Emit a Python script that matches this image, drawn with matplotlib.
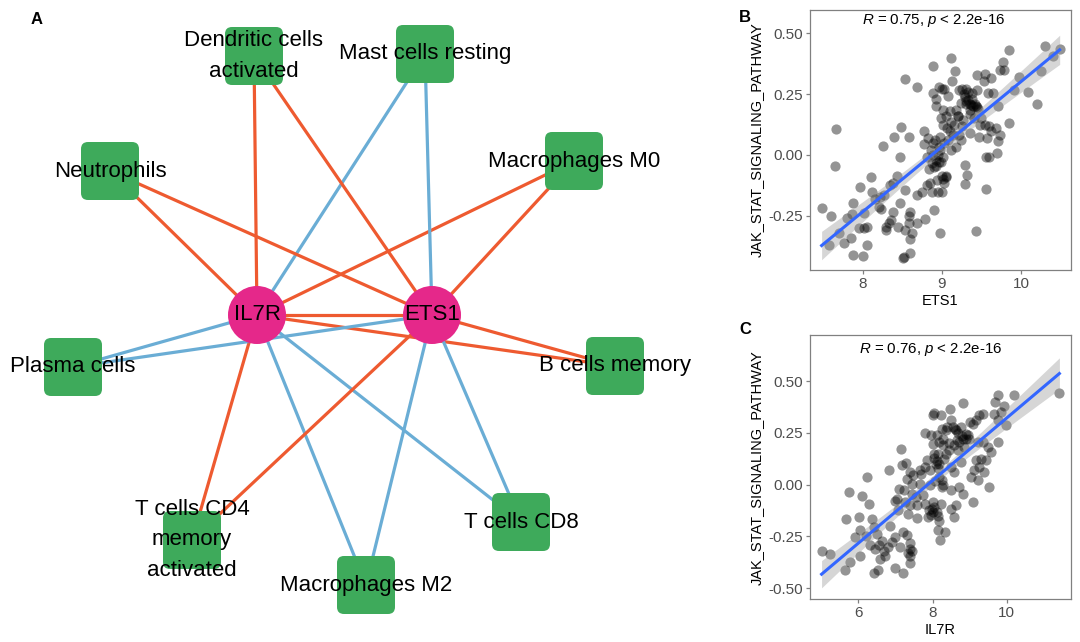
import numpy as np
import matplotlib
matplotlib.use("Agg")
from matplotlib import pyplot as plt
from matplotlib.patches import FancyBboxPatch, Circle

plt.rcParams['font.family'] = ['Liberation Sans', 'DejaVu Sans']
plt.rcParams['mathtext.fontset'] = 'custom'
plt.rcParams['mathtext.rm'] = 'Liberation Sans'
plt.rcParams['mathtext.it'] = 'Liberation Sans:italic'

# ---- network (panel A) ----
hubs = ['IL7R', 'ETS1']
hub_x = [257, 432]
hub_y = [315, 315]

cells = ['Dendritic cells\nactivated', 'Mast cells resting', 'Neutrophils',
         'Macrophages M0', 'Plasma cells', 'B cells memory',
         'T cells CD4\nmemory\nactivated', 'Macrophages M2', 'T cells CD8']
cell_x = [254, 425, 110, 574, 73, 615, 192, 366, 521]
cell_y = [56, 54, 171, 161, 367, 366, 540, 585, 522]
# 1 = positive correlation (red), -1 = negative (blue); same for both hubs
cell_sign = [1, -1, 1, 1, -1, 1, 1, -1, -1]
hub_link_sign = 1

# ---- scatter B: ETS1 vs JAK_STAT ----
ets1 = [8.89, 8.53, 8.69, 8.89, 8.96, 9.00, 8.93, 7.66, 8.48, 8.40, 8.59, 8.25, 8.77, 8.83,
        8.77, 8.89, 8.96, 8.47, 8.81, 8.87, 8.93, 7.65, 9.00, 8.10, 7.96, 8.43, 8.38, 8.35,
        8.54, 8.12, 8.22, 8.27, 7.88, 7.48, 7.60, 7.80, 7.87, 8.01, 8.20, 8.23, 8.38, 8.47,
        8.60, 8.68, 8.75, 8.79, 8.90, 8.36, 8.44, 8.30, 8.58, 8.68, 8.01, 8.06, 8.30, 8.53,
        8.62, 8.60, 7.85, 7.70, 7.57, 7.76, 7.88, 8.00, 8.06, 8.51, 8.60, 8.98, 8.95, 8.85,
        8.81, 8.87, 8.94, 8.89, 8.99, 8.99, 9.02, 8.52, 9.12, 9.17, 9.13, 9.03, 9.08, 9.22,
        9.31, 9.29, 9.33, 9.37, 9.43, 9.46, 9.44, 9.24, 9.18, 9.10, 9.01, 9.05, 9.12, 9.16,
        9.10, 9.08, 9.22, 9.24, 9.18, 9.12, 9.03, 9.02, 8.97, 9.05, 9.03, 9.00, 9.43, 9.56,
        9.56, 9.60, 9.70, 9.71, 9.73, 9.69, 9.60, 9.54, 9.48, 9.47, 9.57, 9.35, 9.29, 9.32,
        9.29, 9.85, 9.44, 9.55, 9.53, 9.62, 9.58, 9.65, 9.71, 9.79, 9.74, 9.77, 9.85, 9.97,
        9.91, 10.09, 10.20, 10.26, 10.30, 10.40, 10.49, 9.38, 9.35, 9.41, 9.20, 9.27, 8.98,
        9.14, 8.98, 9.30, 9.35, 9.26, 8.92, 9.06,
        9.30, 9.35, 9.40, 9.45, 9.28, 9.33, 9.38, 9.42, 8.90, 8.92, 8.95, 9.02, 9.05,
        8.86, 8.91, 9.25, 9.20, 8.84, 8.58, 8.33, 8.15, 7.95, 9.62, 9.50]
jak_b = [0.366, 0.313, 0.279, 0.254, 0.279, 0.272, 0.202, 0.106, 0.114, 0.075, 0.073, 0.038,
         0.096, 0.071, 0.045, 0.048, 0.034, -0.007, -0.007, -0.032, -0.048, -0.048, -0.089,
         -0.092, -0.131, -0.089, -0.114, -0.124, -0.144, -0.155, -0.172, -0.165, -0.199,
         -0.218, -0.251, -0.261, -0.245, -0.240, -0.213, -0.224, -0.234, -0.199, -0.234,
         -0.165, -0.151, -0.265, -0.227, -0.268, -0.295, -0.295, -0.282, -0.279, -0.302,
         -0.295, -0.309, -0.309, -0.320, -0.345, -0.341, -0.323, -0.371, -0.361, -0.412,
         -0.416, -0.372, -0.426, -0.402, -0.320, -0.151, -0.117, -0.124, -0.151, -0.103,
         0.000, -0.028, 0.151, 0.123, -0.420, 0.398, 0.343, 0.302, 0.272, 0.243, 0.268,
         0.272, 0.240, 0.226, 0.206, 0.199, 0.189, 0.267, 0.213, 0.185, 0.182, 0.185, 0.158,
         0.137, 0.123, 0.096, 0.062, 0.082, 0.059, 0.034, 0.020, 0.048, -0.007, -0.028,
         -0.087, -0.117, -0.155, -0.313, -0.142, -0.007, -0.007, 0.009, 0.055, 0.082, 0.110,
         0.117, 0.123, 0.123, 0.075, 0.068, 0.089, -0.041, -0.083, -0.120, 0.130, 0.327,
         0.333, 0.302, 0.316, 0.254, 0.254, 0.199, 0.350, 0.350, 0.381, 0.432, 0.322, 0.268,
         0.258, 0.208, 0.347, 0.446, 0.405, 0.435, 0.254, 0.185, 0.151, 0.158, 0.144, 0.075,
         0.082, 0.020, 0.210, 0.170, 0.120, 0.230, 0.110,
         0.220, 0.210, 0.200, 0.195, 0.250, 0.260, 0.230, 0.210, -0.050, -0.020, 0.000,
         -0.100, -0.090, 0.020, 0.060, 0.270, 0.160, -0.060, -0.250, -0.280, -0.180, -0.300,
         0.100, 0.150]

# ---- scatter C: IL7R vs JAK_STAT ----
il7r = [8.02, 8.04, 7.80, 8.00, 8.11, 8.25, 8.29, 7.14, 7.29, 7.17, 6.84, 6.24, 7.38, 7.48,
        7.66, 7.80, 7.93, 7.84, 8.11, 7.32, 7.44, 7.66, 7.93, 8.07, 8.25, 7.11, 7.23, 7.44,
        7.56, 7.75, 5.76, 6.09, 6.30, 7.03, 7.26, 7.39, 7.57, 7.80, 7.98, 8.11, 8.02, 8.22,
        8.16, 7.89, 7.59, 7.35, 7.08, 5.66, 6.03, 6.36, 6.05, 5.91, 6.41, 6.50, 6.85, 6.99,
        7.21, 7.30, 8.16, 8.20, 6.63, 6.81, 7.12, 7.39, 7.44, 7.39, 6.32, 6.45, 6.72, 6.59,
        6.05, 5.78, 5.64, 5.01, 5.24, 6.43, 6.54, 6.99, 7.20, 7.38, 6.90, 8.25, 8.16, 8.47,
        8.83, 9.76, 10.19, 9.69, 9.94, 11.42, 9.35, 9.26, 9.17, 9.10, 9.67, 9.76, 9.98, 8.23,
        8.50, 8.36, 8.63, 8.77, 8.90, 8.99, 8.81, 8.72, 8.59, 8.45, 8.18, 8.27, 8.18, 8.32,
        8.50, 8.59, 8.77, 9.22, 9.35, 9.58, 9.76, 9.31, 9.17, 9.26, 9.40, 9.13, 9.04, 9.22,
        9.53, 8.72, 8.50, 8.27, 8.18, 8.81, 9.08, 8.63, 8.50, 8.59, 8.18, 8.35, 8.36, 8.68,
        7.95, 8.05, 8.85, 9.45, 7.70, 8.40,
        8.60, 8.70, 8.80, 8.90, 8.95, 8.55, 8.65, 8.10, 8.15, 8.05, 7.90, 8.00, 7.95, 8.05,
        6.55, 6.70, 7.35, 7.40, 7.00, 6.20, 9.00, 9.85, 9.50, 8.45]
jak_c = [0.335, 0.347, 0.251, 0.198, 0.238, 0.270, 0.222, 0.170, 0.106, 0.093, 0.069, 0.037,
         0.061, 0.045, 0.069, 0.085, 0.069, 0.117, 0.112, 0.029, 0.004, 0.004, 0.000, 0.016,
         0.021, -0.020, -0.028, -0.044, -0.060, -0.049, -0.033, -0.055, -0.092, -0.068,
         -0.084, -0.100, -0.100, -0.092, -0.116, -0.132, -0.084, -0.092, -0.149, -0.157,
         -0.161, -0.140, -0.124, -0.168, -0.157, -0.168, -0.221, -0.253, -0.205, -0.237,
         -0.197, -0.253, -0.229, -0.245, -0.221, -0.269, -0.274, -0.302, -0.302, -0.281,
         -0.318, -0.342, -0.293, -0.309, -0.342, -0.358, -0.342, -0.374, -0.414, -0.318,
         -0.334, -0.426, -0.414, -0.403, -0.426, -0.377, -0.277, -0.012, 0.149, 0.364, 0.396,
         0.431, 0.431, 0.399, 0.380, 0.444, 0.343, 0.335, 0.310, 0.294, 0.343, 0.310, 0.289,
         0.335, 0.310, 0.262, 0.262, 0.278, 0.246, 0.222, 0.222, 0.206, 0.190, 0.165, 0.206,
         0.190, 0.101, 0.125, 0.085, 0.061, 0.109, 0.206, 0.206, 0.157, 0.206, 0.125, 0.117,
         0.085, 0.061, 0.069, 0.037, 0.021, -0.012, -0.012, -0.028, -0.004, 0.037, -0.044,
         -0.084, -0.100, -0.116, -0.157, -0.173, -0.229, 0.149, 0.165, 0.240, 0.150, 0.180,
         0.120, 0.050, 0.280,
         0.270, 0.250, 0.235, 0.220, 0.240, 0.280, 0.215, 0.100, 0.080, 0.130, -0.120,
         -0.130, -0.145, -0.110, -0.290, -0.320, -0.330, -0.310, -0.080, -0.250, 0.300,
         0.350, 0.180, 0.200]

red = '#EE5A30'
blue = '#6AADD5'
green = '#3EAA5B'
pink = '#E5288A'

fig = plt.figure(figsize=(10.8, 6.42), dpi=100)

# network panel, drawn in layout units (1 unit = 1 px)
axA = fig.add_axes([0, 0, 720 / 1080, 1])
axA.set_xlim(0, 720)
axA.set_ylim(642, 0)
axA.set_aspect('equal')
axA.axis('off')

for hx, hy in zip(hub_x, hub_y):
    for cx, cy, s in zip(cell_x, cell_y, cell_sign):
        axA.plot([hx, cx], [hy, cy], color=red if s > 0 else blue, lw=2.3,
                 solid_capstyle='butt', zorder=1)
axA.plot(hub_x, hub_y, color=red if hub_link_sign > 0 else blue, lw=2.3, zorder=1)

box = 58
for cx, cy, name in zip(cell_x, cell_y, cells):
    axA.add_patch(FancyBboxPatch((cx - box / 2, cy - box / 2), box, box,
                                 boxstyle="round,pad=0,rounding_size=7",
                                 fc=green, ec='none', zorder=2))
    axA.text(cx, cy, name, ha='center', va='center', fontsize=16,
             linespacing=1.6, zorder=3)

for hx, hy, name in zip(hub_x, hub_y, hubs):
    axA.add_patch(Circle((hx, hy), 29, fc=pink, ec='none', zorder=2))
    axA.text(hx, hy, name, ha='center', va='center', fontsize=16, zorder=3)


def fit_band(x, y, n=100):
    x = np.asarray(x)
    y = np.asarray(y)
    b, a = np.polyfit(x, y, 1)
    xs = np.linspace(x.min(), x.max(), n)
    yhat = a + b * xs
    s = np.sqrt(np.sum((y - (a + b * x)) ** 2) / (len(x) - 2))
    se = s * np.sqrt(1 / len(x) + (xs - x.mean()) ** 2 / np.sum((x - x.mean()) ** 2))
    return xs, yhat, 1.97 * se


def scatter_panel(ax, x, y, xlabel, label, xlim, ylim, xticks, yticks, tx, ty):
    xs, yhat, ci = fit_band(x, y)
    ax.scatter(x, y, s=54, color='black', alpha=0.42, linewidths=0, zorder=2)
    ax.fill_between(xs, yhat - ci, yhat + ci, color='#999999', alpha=0.4,
                    linewidth=0, zorder=3)
    ax.plot(xs, yhat, color='#3366FF', lw=2.2, zorder=4)
    ax.set_xlim(*xlim)
    ax.set_ylim(*ylim)
    ax.set_xticks(xticks)
    ax.set_yticks(yticks)
    ax.set_yticklabels(['%.2f' % v for v in yticks])
    for sp in ax.spines.values():
        sp.set_color('#808080')
        sp.set_linewidth(0.9)
    ax.tick_params(colors='#808080', labelcolor='#4D4D4D', labelsize=11,
                   length=3, width=0.9, pad=2)
    ax.set_xlabel(xlabel, fontsize=10.5, labelpad=2)
    ax.set_ylabel('JAK_STAT_SIGNALING_PATHWAY', fontsize=10.5, labelpad=3)
    ax.text(tx, ty, label, transform=ax.transAxes, ha='center', va='center',
            fontsize=10.8)


axB = fig.add_axes([810 / 1080, 1 - 270 / 642, 261 / 1080, 260 / 642])
scatter_panel(axB, ets1, jak_b, 'ETS1', '$R$ = 0.75, $p$ < 2.2e-16',
              (7.333, 10.633), (-0.474, 0.596), [8, 9, 10], [-0.25, 0.0, 0.25, 0.5],
              0.475, 0.959)

axC = fig.add_axes([810 / 1080, 1 - 599.3 / 642, 261 / 1080, 264.3 / 642])
scatter_panel(axC, il7r, jak_c, 'IL7R', '$R$ = 0.76, $p$ < 2.2e-16',
              (4.698, 11.733), (-0.553, 0.722), [6, 8, 10],
              [-0.5, -0.25, 0.0, 0.25, 0.5], 0.463, 0.946)

fig.text(37 / 1080, 1 - 20 / 642, 'A', fontsize=12, fontweight='bold', ha='center', va='center')
fig.text(745 / 1080, 1 - 18 / 642, 'B', fontsize=12, fontweight='bold', ha='center', va='center')
fig.text(745 / 1080, 1 - 330 / 642, 'C', fontsize=12, fontweight='bold', ha='center', va='center')

fig.savefig('out.png', dpi=100)
